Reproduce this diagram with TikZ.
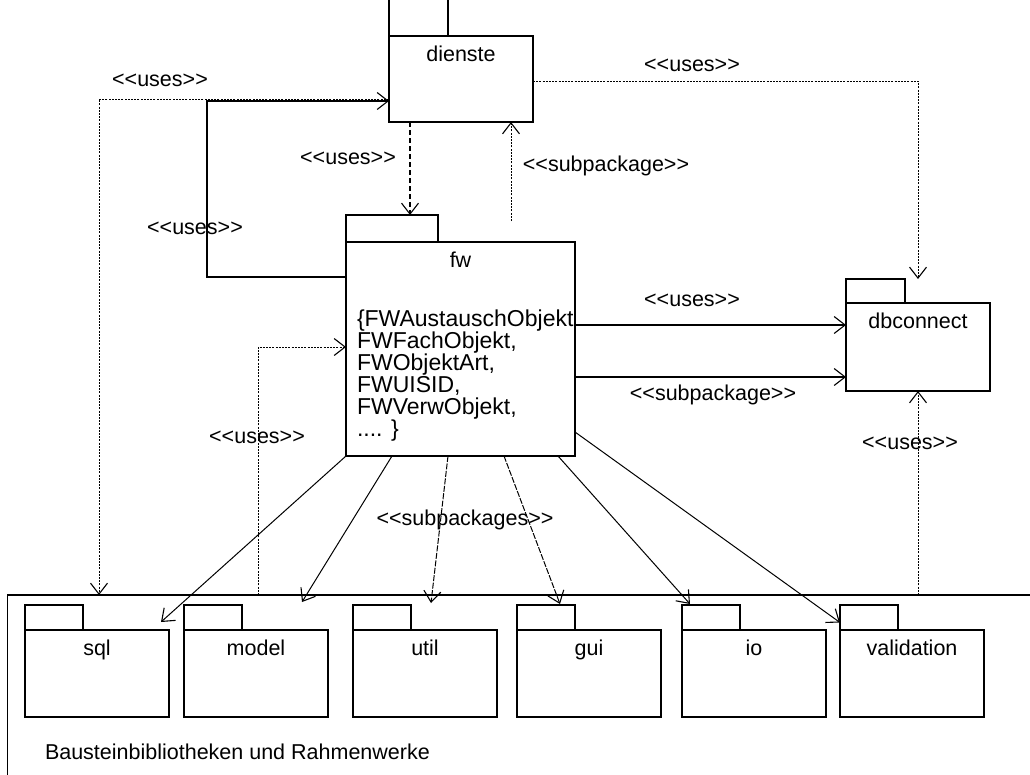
\documentclass[tikz,border=0pt]{standalone}
\usepackage{fontspec}
\setmainfont{Liberation Sans}
\usetikzlibrary{arrows.meta}
% guillemet-safe stereotype brackets (boxes keep the TeX mapping from merging << and >>)
\newcommand\stereo[1]{\mbox{<}\mbox{<}#1\mbox{>}\mbox{>}}

\begin{document}
\begin{tikzpicture}[x=1pt,y=-1pt,
  every node/.style={font=\fontsize{21.5}{22}\selectfont, inner sep=0pt, outer sep=0pt},
  pkg/.style={draw, line width=1.1pt, rectangle, anchor=north west,
              minimum width=144pt, minimum height=87pt},
  pkgtab/.style={draw, line width=1.1pt, rectangle, anchor=south west,
              minimum width=58pt, minimum height=25pt},
  lbl/.style={anchor=north, yshift=-10pt},
  tip/.style={-{Straight Barb[length=11pt,width=17pt,line width=1.1pt]}},
  dep/.style={tip, line width=0.9pt, dash pattern=on 2pt off 1.2pt},
  plain/.style={tip, line width=1pt},
  bold/.style={tip, line width=1.6pt},
  heavydash/.style={tip, line width=1.8pt, dash pattern=on 5pt off 3pt},
]
\useasboundingbox (0,0) rectangle (1030,774);
\clip (0,0) rectangle (1030,774);
\fill[white] (0,0) rectangle (1030,774);

% enclosing library package
\node[anchor=north west, minimum width=1100pt, minimum height=300pt] (lib) at (7,595) {};
\draw[line width=1.8pt] (lib.north west) -- (lib.north east);
\draw[line width=1pt] (lib.north west) -- (lib.south west);
\node[anchor=west] (libname) at (45,752) {Bausteinbibliotheken und Rahmenwerke};

% top-level packages
\node[pkg, minimum height=86pt, label={[lbl]north:dienste}] (dienste) at (389,36) {};
\node[pkgtab, minimum width=59pt, minimum height=50pt] (dienstetab) at (dienste.north west) {};

\node[pkg, minimum width=229pt, minimum height=214pt, label={[lbl]north:fw}] (fw) at (346,242) {};
\node[pkgtab, minimum width=92pt, minimum height=27pt] (fwtab) at (fw.north west) {};
\node[anchor=north west, align=left, font=\fontsize{23}{22}\selectfont] (fwlist) at (357,310)
  {\{FWAustauschObjekt\\FWFachObjekt,\\FWObjektArt,\\FWUISID,\\FWVerwObjekt,\\.... \}};

\node[pkg, minimum height=88pt, label={[lbl]north:dbconnect}] (dbconnect) at (846,303) {};
\node[pkgtab, minimum width=59pt, minimum height=24pt] (dbconnecttab) at (dbconnect.north west) {};

% subpackages
\foreach \nm/\xx in {sql/25, model/184, util/353, gui/517, io/682, validation/840}{
  \node[pkg, label={[lbl]north:\nm}] (\nm) at (\xx,630) {};
  \node[pkgtab] (\nm tab) at (\nm.north west) {};
}

% bend points of the routed connectors
\coordinate (c1) at (99,99);
\coordinate (c2) at (918,81);
\coordinate (c3) at (207,101);
\coordinate (c4) at (207,277);
\coordinate (c5) at (410,0);
\coordinate (c6) at (511,221);
\coordinate (c7) at (0,325);
\coordinate (c8) at (0,377);
\coordinate (c9) at (258,347);
\coordinate (c10) at (918,0);

% dependencies
\draw[dep] (dienste.west |- c1) -- (c1) -- (c1 |- lib.north);
\draw[dep] (dienste.east |- c2) -- (c2) -- (c2 |- dbconnecttab.north);
\draw[bold] (fw.west |- c4) -- (c4) -- (c3) -- (dienste.west |- c3);
\draw[heavydash] (dienste.south -| c5) -- (fwtab.north -| c5);
\draw[dep] (c6) -- (dienste.south -| c6);
\draw[bold] (fw.east |- c7) -- (dbconnect.west |- c7);
\draw[bold] (fw.east |- c8) -- (dbconnect.west |- c8);
\draw[dep] (lib.north -| c9) -- (c9) -- (fw.west |- c9);
\draw[dep] (lib.north -| c10) -- (dbconnect.south -| c10);

% fw -> subpackages
\draw[plain] (fw.south west) -- ([shift={(-8,-8)}]sql.north east);
\draw[plain] ([xshift=46pt]fw.south west) -- ([shift={(118,-28)}]model.north west);
\draw[plain, dash pattern=on 6pt off 1.5pt] ([xshift=102pt]fw.south west) -- ([shift={(78,-27)}]util.north west);
\draw[plain, dash pattern=on 6pt off 1.5pt] ([xshift=158pt]fw.south west) -- ([shift={(43,-1)}]guitab.north west);
\draw[plain] ([xshift=212pt]fw.south west) -- ([shift={(8,-1)}]iotab.north west);
\draw[plain] ([shift={(0,-24)}]fw.south east) -- ([shift={(0,5)}]validationtab.west);

% stereotype labels
\node (l1) at (160,80) {\stereo{uses}};
\node (l2) at (692,65) {\stereo{uses}};
\node (l3) at (348,158) {\stereo{uses}};
\node (l4) at (606,166) {\stereo{subpackage}};
\node (l5) at (195,228) {\stereo{uses}};
\node (l6) at (692,300) {\stereo{uses}};
\node (l7) at (713,395) {\stereo{subpackage}};
\node (l8) at (257,437) {\stereo{uses}};
\node (l9) at (465,520) {\stereo{subpackages}};
\node (l10) at (910,443) {\stereo{uses}};
\end{tikzpicture}
\end{document}
